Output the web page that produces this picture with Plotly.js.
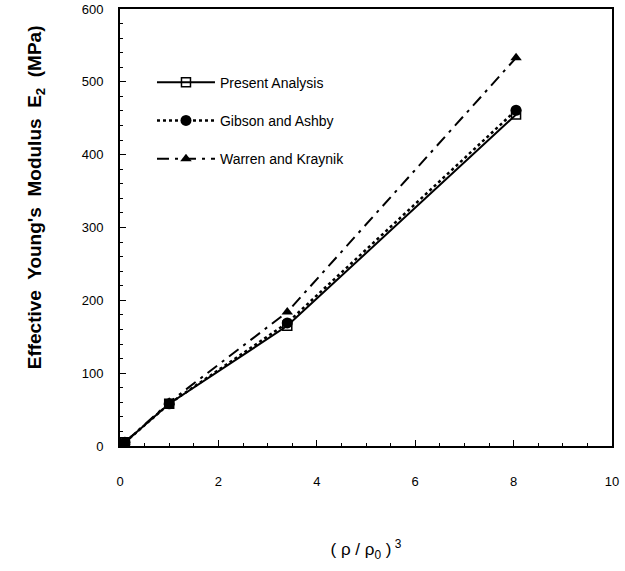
<!DOCTYPE html>
<html>
<head>
<meta charset="utf-8">
<script src="https://cdn.plot.ly/plotly-3.0.1.min.js"></script>
<style>html,body{margin:0;padding:0;background:#fff;}#chart{width:625px;height:571px;}</style>
</head>
<body>
<div id="chart"></div>
<script>
var xValues = [0.1, 1.0, 3.4, 8.05];
var presentAnalysis = [5, 58, 165, 455];
var gibsonAshby = [5, 58, 169, 461];
var warrenKraynik = [5, 60, 184, 533];
var seriesNames = ["Present Analysis", "Gibson and Ashby", "Warren and Kraynik"];
var xTicks = [0, 2, 4, 6, 8, 10];
var yTicks = [0, 100, 200, 300, 400, 500, 600];

var font = "Liberation Sans, Arial, Helvetica, sans-serif";

var traces = [
  {x: xValues, y: presentAnalysis, name: seriesNames[0], mode: "lines+markers", legendgroup: "a",
   line: {color: "#000", width: 2, dash: "solid"},
   marker: {symbol: "square-open", size: 9, color: "#000", line: {width: 1.5, color: "#000"}}},
  {x: xValues, y: gibsonAshby, name: seriesNames[1], mode: "lines+markers", legendgroup: "b",
   line: {color: "#000", width: 2.5, dash: "dot"},
   marker: {symbol: "circle", size: 11, color: "#000"}},
  {x: xValues, y: warrenKraynik, name: seriesNames[2], mode: "lines+markers", legendgroup: "c",
   line: {color: "#000", width: 2, dash: "12px,6px,3px,6px"},
   marker: {symbol: "triangle-up", size: 10, color: "#000"}}
];

var layout = {
  width: 625, height: 571,
  margin: {l: 120, r: 13, t: 9, b: 125},
  paper_bgcolor: "#fff", plot_bgcolor: "#fff",
  font: {family: font, color: "#000", size: 13},
  showlegend: true,
  legend: {x: 0.065, y: 0.868, xanchor: "left", yanchor: "top", bgcolor: "rgba(0,0,0,0)", itemwidth: 58,
           font: {family: font, size: 14, color: "#000"}, tracegroupgap: 17, traceorder: "grouped"},
  xaxis: {
    range: [0, 10], tickvals: xTicks, ticktext: xTicks.map(String),
    showgrid: false, zeroline: false, showline: true, linecolor: "#000", linewidth: 2, mirror: true,
    ticks: "inside", ticklen: 6, tickwidth: 1, tickcolor: "#000", ticklabelstandoff: 22,
    minor: {dtick: 0.5, ticks: "inside", ticklen: 3, tickcolor: "#000", tickwidth: 1, showgrid: false},
    tickfont: {family: font, size: 13},
    title: {text: "( ρ / ρ<sub>0</sub> )<sup> 3</sup>", font: {family: font, size: 17}, standoff: 56}
  },
  yaxis: {
    range: [0, 600], tickvals: yTicks, ticktext: yTicks.map(String),
    showgrid: false, zeroline: false, showline: true, linecolor: "#000", linewidth: 2, mirror: true,
    ticks: "inside", ticklen: 6, tickwidth: 1, tickcolor: "#000", ticklabelstandoff: 12,
    minor: {dtick: 20, ticks: "inside", ticklen: 3, tickcolor: "#000", tickwidth: 1, showgrid: false},
    tickfont: {family: font, size: 13}
  },
  annotations: [{
    text: "<b>Effective  Young's  Modulus  E<sub>2</sub>  (MPa)</b>",
    xref: "paper", yref: "paper", x: -0.17, y: 0.57, xanchor: "center", yanchor: "middle",
    textangle: -90, showarrow: false, font: {family: font, size: 19, color: "#000"}
  }]
};

Plotly.newPlot("chart", traces, layout, {displayModeBar: false, staticPlot: true});
</script>
</body>
</html>
